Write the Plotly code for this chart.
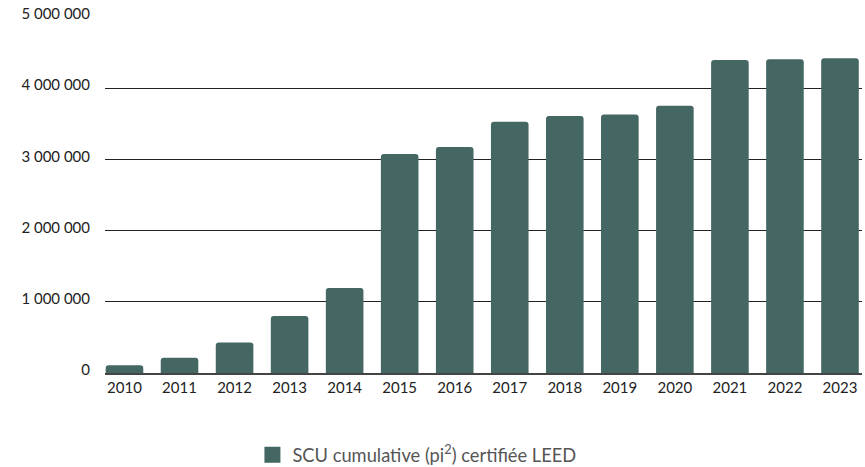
import plotly.graph_objects as go

years = [str(y) for y in range(2010, 2024)]
scu_cumulative = [110000, 215000, 430000, 800000, 1195000, 3075000, 3175000,
                  3530000, 3610000, 3630000, 3755000, 4395000, 4405000, 4420000]
series_name = 'SCU cumulative (pi<sup>2</sup>) certifiée LEED'
y_ticks = [0, 1000000, 2000000, 3000000, 4000000, 5000000]

bar_color = '#446764'

fig = go.Figure()
fig.add_trace(go.Bar(x=years, y=scu_cumulative, marker_color=bar_color,
                     marker_line_width=0, showlegend=False, name=series_name))
# legend-only swatch (bigger square than the default bar swatch)
fig.add_trace(go.Scatter(x=[None], y=[None], mode='markers', name=series_name,
                         marker=dict(symbol='square', size=18, color=bar_color)))

fig.update_layout(
    width=865, height=467,
    margin=dict(l=105, r=3, t=17, b=94),
    paper_bgcolor='white', plot_bgcolor='white',
    font=dict(family='Lato, Roboto, sans-serif', color='#222222'),
    separators=', ',
    bargap=0.317,
    barcornerradius=3,
    showlegend=True,
    legend=dict(orientation='h', xref='container', x=0.482, xanchor='center',
                yref='container', y=0.026, yanchor='middle',
                font=dict(size=18.3, color='#555555'), itemsizing='trace'),
)
fig.update_xaxes(type='category', range=[-0.354, 13.4], showgrid=False,
                 showline=True, linecolor='#444444', linewidth=1.5,
                 ticks='', tickfont=dict(size=15, color='#222222'))
fig.update_yaxes(range=[0, 5000000], tickvals=y_ticks, tickformat=',d',
                 showgrid=True, gridcolor='#222222', gridwidth=1,
                 zeroline=False, showline=False, ticks='',
                 ticklabelstandoff=14, ticklabelshift=-3,
                 tickfont=dict(size=15, color='#222222'))

fig.write_html('out.html', config={'displayModeBar': False},
               post_script="document.body.style.margin='0';")
